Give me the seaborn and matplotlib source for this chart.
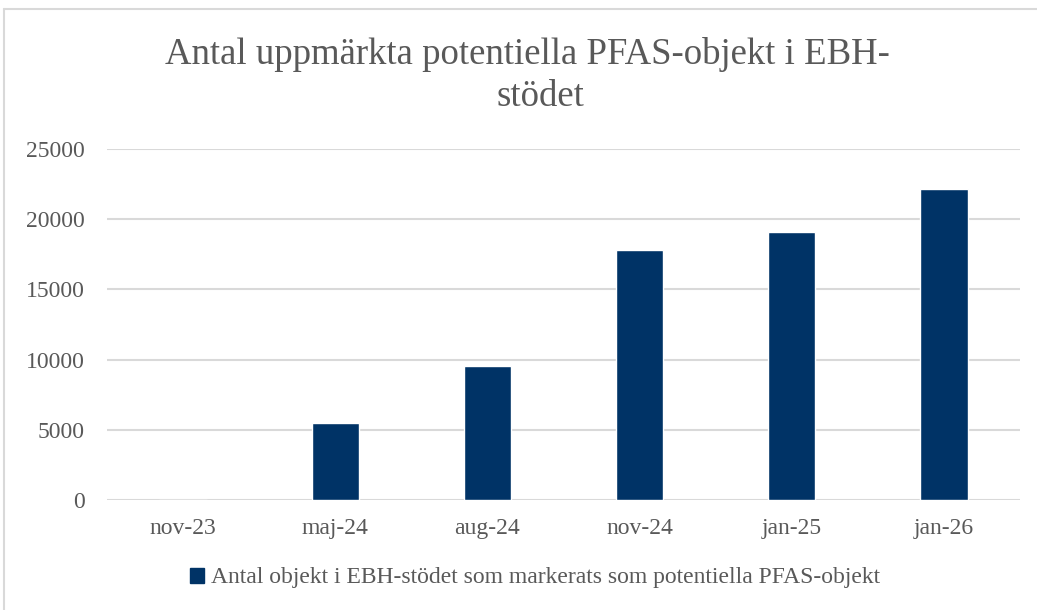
import matplotlib
matplotlib.use("Agg")
import matplotlib.pyplot as plt
import seaborn as sns
import pandas as pd
from matplotlib.lines import Line2D
from matplotlib.patches import Patch

categories = ["nov-23", "maj-24", "aug-24", "nov-24", "jan-25", "jan-26"]
values = [0, 5470, 9530, 17790, 19120, 22160]
yticks = [0, 5000, 10000, 15000, 20000, 25000]
series_name = "Antal objekt i EBH-stödet som markerats som potentiella PFAS-objekt"
title_line1 = "Antal uppmärkta potentiella PFAS-objekt i EBH-"
title_line2 = "stödet"

sns.set_theme(style="white")
plt.rcParams["font.family"] = ["Liberation Serif", "DejaVu Serif"]

BAR = "#003366"
TXT = "#595959"
GRID = "#d9d9d9"

df = pd.DataFrame({"cat": categories, "val": values})

fig = plt.figure(figsize=(10.37, 6.10), dpi=100)
ax = fig.add_axes([107/1037, 1 - 500/610, (1020 - 107)/1037, (500 - 149)/610])

sns.barplot(data=df, x="cat", y="val", color=BAR, width=0.31, ax=ax, saturation=1)

ax.set_ylim(0, 25000)
ax.set_yticks(yticks)
ax.set_yticklabels([str(v) for v in yticks])
ax.set_xlim(-0.5, len(categories) - 0.5)
ax.set_xlabel("")
ax.set_ylabel("")
ax.grid(axis="y", color=GRID, linewidth=1.5)
ax.set_axisbelow(True)
for s in ax.spines.values():
    s.set_visible(False)
ax.tick_params(axis="both", length=0, labelsize=17, colors=TXT)
ax.tick_params(axis="y", pad=16)
ax.tick_params(axis="x", pad=13)

fig.text(527/1037, 1 - 55/610, title_line1, ha="center", va="center", fontsize=26.5, color=TXT)
fig.text(540/1037, 1 - 97/610, title_line2, ha="center", va="center", fontsize=26.5, color=TXT)

handle = Patch(facecolor=BAR, edgecolor=BAR)
fig.legend([handle], [series_name], loc="center", bbox_to_anchor=(535/1037, 1 - 578/610),
           frameon=False, fontsize=17, labelcolor=TXT, handlelength=0.6, handleheight=0.6,
           handletextpad=0.3)

# chart border
fig.add_artist(Line2D([4/1037, 4/1037], [0, 1 - 9/610], transform=fig.transFigure, color=GRID, linewidth=1.5))
fig.add_artist(Line2D([4/1037, 1], [1 - 9/610, 1 - 9/610], transform=fig.transFigure, color=GRID, linewidth=1.5))

fig.savefig("out.png", dpi=100, facecolor="white")
